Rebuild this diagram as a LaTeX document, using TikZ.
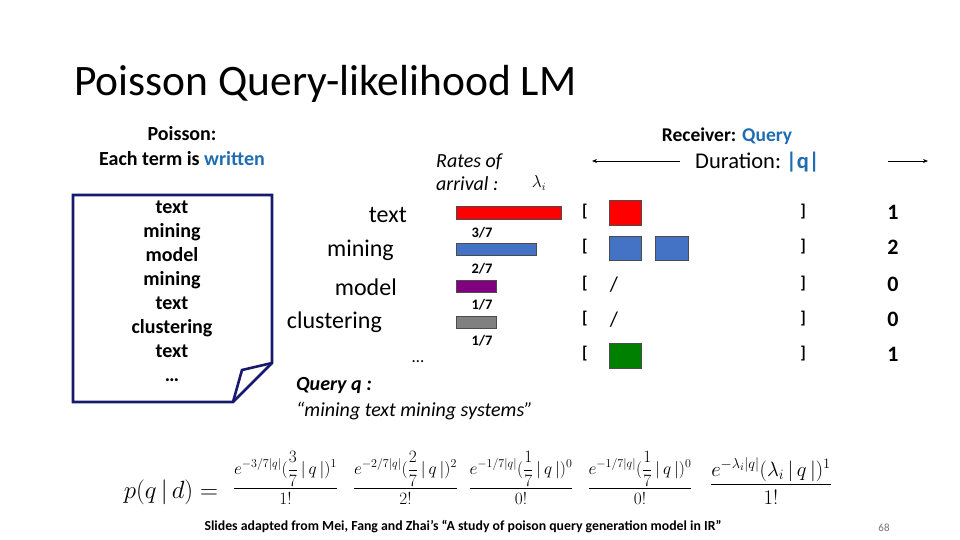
\documentclass[tikz,border=0pt]{standalone}
\usepackage{amsmath}
\usepackage{fontspec}
\setmainfont{Carlito}
\usetikzlibrary{arrows.meta}
\definecolor{hlblue}{RGB}{31,108,178}
\definecolor{navy}{RGB}{24,24,110}
\definecolor{barblue}{RGB}{68,114,196}
\definecolor{barpurple}{RGB}{128,0,128}
\definecolor{bargray}{RGB}{128,128,128}
\definecolor{bargreen}{RGB}{0,128,0}
\tikzset{
  doctext/.style={font=\fontsize{20}{22}\selectfont\bfseries, anchor=base, inner sep=0},
  word/.style={font=\fontsize{24}{26}\selectfont, anchor=east, inner sep=0},
  frac/.style={font=\fontsize{14.5}{16}\selectfont\bfseries, anchor=center, inner sep=0},
  bar/.style={draw=black!70, line width=0.6pt},
  brk/.style={font=\fontsize{17}{19}\selectfont\bfseries, anchor=center, inner sep=0},
  cnt/.style={font=\fontsize{22}{24}\selectfont\bfseries, anchor=center, inner sep=0},
  arr/.style={-{Stealth[length=5pt,width=4pt]}, line width=0.8pt},
  eq/.style={inner sep=0, anchor=center, font=\fontsize{17.5}{20}\selectfont},
}
\begin{document}
\begin{tikzpicture}[x=1pt,y=-1pt]
\useasboundingbox (0,0) rectangle (960,540);
% title
\node[anchor=base west, inner sep=0, font=\fontsize{43.5}{46}\selectfont] (title) at (74,96) {Poisson Query-likelihood LM};
% left header
\node[align=center, inner sep=0, font=\fontsize{20}{25}\selectfont\bfseries] (hdr) at (182,146) {Poisson:\\Each term is \textcolor{hlblue}{written}};
% document box
\draw[navy, line width=2.6pt, line join=miter] (73,195) -- (272,195) -- (272,363) -- (233,402) -- (73,402) -- cycle;
\draw[navy, line width=2.6pt, line join=miter] (233,402) -- (242,370) -- (272,363);
\foreach \w [count=\i] in {text,mining,model,mining,text,clustering,text,\dots}
  \node[doctext] (d\i) at (172,189+24*\i) {\w};
% rates header
\node[align=left, anchor=west, inner sep=0, font=\fontsize{20}{23}\selectfont\itshape] (rates) at (436,172) {Rates of\\arrival :};
\node[inner sep=0] (lam) at (539,183) {\fontsize{16}{18}\selectfont$\lambda_i$};
% word labels
\node[word] (wtext) at (407,215) {text};
\node[word] (wmin) at (394,250) {mining};
\node[word] (wmod) at (397,287) {model};
\node[word] (wclu) at (382,322) {clustering};
% bars
\draw[bar, fill=red] (456,206) rectangle (561,219);
\draw[bar, fill=barblue] (456,243) rectangle (536,255);
\draw[bar, fill=barpurple] (456,280) rectangle (496,292);
\draw[bar, fill=bargray] (456,316) rectangle (496,328);
\node[frac] (f1) at (482,233) {3/7};
\node[frac] (f2) at (482,269) {2/7};
\node[frac] (f3) at (482,305) {1/7};
\node[frac] (f4) at (482,341) {1/7};
\node[inner sep=0, font=\fontsize{17}{19}\selectfont] (dots) at (418,362) {\dots};
% query
\node[anchor=west, inner sep=0, font=\fontsize{20}{22}\selectfont\bfseries\itshape] (qq) at (296,386) {Query q :};
\node[anchor=west, inner sep=0, font=\fontsize{20}{22}\selectfont\itshape] (qtext) at (296,411) {“mining text mining systems”};
% receiver
\node[inner sep=0, font=\fontsize{19.5}{22}\selectfont\bfseries] (recv) at (727,136) {Receiver: \textcolor{hlblue}{Query}};
\node[inner sep=0, anchor=west, font=\fontsize{22.5}{25}\selectfont] (dur) at (695,162) {Duration:~\textcolor{hlblue}{\bfseries|q|}};
\coordinate (la1) at (680,161);
\coordinate (la2) at (592,161);
\coordinate (ra1) at (888,161);
\coordinate (ra2) at (928,161);
\draw[arr] (la1) -- (la2);
\draw[arr] (ra1) -- (ra2);
% rows
\foreach \y/\n [count=\i] in {212/1,247/2,284/0,319/0,354/1} {
  \node[brk] (lb\i) at (585,\y) {[};
  \node[brk] (rb\i) at (803,\y) {]};
  \node[cnt] (n\i) at (893,\y) {\n};
}
\draw[bar, fill=red] (609,200) rectangle (641,225);
\draw[bar, fill=barblue] (609,236) rectangle (641,260);
\draw[bar, fill=barblue] (655,236) rectangle (688,260);
\node[inner sep=0, font=\fontsize{21}{23}\selectfont] (s1) at (614,285) {/};
\node[inner sep=0, font=\fontsize{21}{23}\selectfont] (s2) at (614,320) {/};
\draw[bar, fill=bargreen] (609,343) rectangle (641,368);
% formula
\node[inner sep=0, anchor=center, font=\fontsize{27}{30}\selectfont] (pq) at (171,492) {$p(q\,|\,d)=$};
\node[eq] (e1) at (285.5,478) {$\displaystyle\frac{e^{-3/7|q|}(\dfrac{3}{7}\,|\,q\,|)^1}{1!}$};
\node[eq] (e2) at (405.5,478) {$\displaystyle\frac{e^{-2/7|q|}(\dfrac{2}{7}\,|\,q\,|)^2}{2!}$};
\node[eq] (e3) at (521,478) {$\displaystyle\frac{e^{-1/7|q|}(\dfrac{1}{7}\,|\,q\,|)^0}{0!}$};
\node[eq] (e4) at (640,478) {$\displaystyle\frac{e^{-1/7|q|}(\dfrac{1}{7}\,|\,q\,|)^0}{0!}$};
\node[eq, font=\fontsize{21}{24}\selectfont] (e5) at (771,481) {$\displaystyle\frac{e^{-\lambda_i|q|}(\lambda_i\,|\,q\,|)^1}{1!}$};
% footer
\node[inner sep=0, font=\fontsize{13.8}{16}\selectfont\bfseries] (foot) at (463,527) {Slides adapted from Mei, Fang and Zhai’s “A study of poison query generation model in IR”};
\node[inner sep=0, font=\fontsize{11}{13}\selectfont, text=black!55] (page) at (884,528) {68};
\end{tikzpicture}
\end{document}
